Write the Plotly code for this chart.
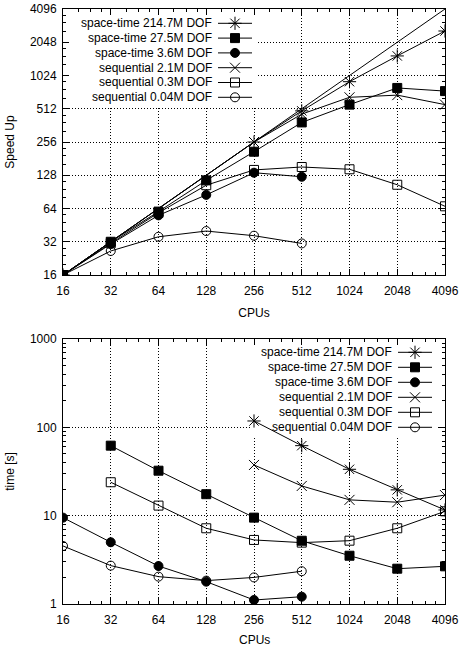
import math
import plotly.graph_objects as go

# ---------------- data ----------------
cpus = [16, 32, 64, 128, 256, 512, 1024, 2048, 4096]
cpu_labels = [str(c) for c in cpus]
speedup_ticks = [16, 32, 64, 128, 256, 512, 1024, 2048, 4096]
time_ticks = [1, 10, 100, 1000]

series_names = [
    "space-time 214.7M DOF",
    "space-time 27.5M DOF",
    "space-time 3.6M DOF",
    "sequential 2.1M DOF",
    "sequential 0.3M DOF",
    "sequential 0.04M DOF",
]

# speed-up (top panel)
su_st214_cpus = [16, 256, 512, 1024, 2048, 4096]
su_st214 = [16, 256, 490, 900, 1540, 2590]
su_st27_cpus = [16, 32, 64, 128, 256, 512, 1024, 2048, 4096]
su_st27 = [16, 32, 60, 115, 209, 385, 558, 790, 740]
su_st36_cpus = [16, 32, 64, 128, 256, 512]
su_st36 = [16, 30.5, 55.5, 85, 135, 124]
su_seq21_cpus = [16, 256, 512, 1024, 2048, 4096]
su_seq21 = [16, 256, 458, 650, 680, 558]
su_seq03_cpus = [16, 32, 64, 128, 256, 512, 1024, 2048, 4096]
su_seq03 = [16, 31, 58.5, 104, 143, 152, 145, 105, 67]
su_seq004_cpus = [16, 32, 64, 128, 256, 512]
su_seq004 = [16, 26.4, 35.5, 40, 36.3, 30.9]

# time in seconds (bottom panel)
t_st214_cpus = [256, 512, 1024, 2048, 4096]
t_st214 = [118, 62, 33.5, 19.6, 11.6]
t_st27_cpus = [32, 64, 128, 256, 512, 1024, 2048, 4096]
t_st27 = [62, 32.3, 17.5, 9.5, 5.2, 3.52, 2.51, 2.67]
t_st36_cpus = [16, 32, 64, 128, 256, 512]
t_st36 = [9.5, 5.0, 2.69, 1.79, 1.11, 1.21]
t_seq21_cpus = [256, 512, 1024, 2048, 4096]
t_seq21 = [37.5, 21.7, 15.1, 14.2, 17.1]
t_seq03_cpus = [32, 64, 128, 256, 512, 1024, 2048, 4096]
t_seq03 = [23.9, 13.0, 7.2, 5.31, 4.95, 5.21, 7.2, 11.2]
t_seq004_cpus = [16, 32, 64, 128, 256, 512]
t_seq004 = [4.54, 2.72, 2.04, 1.84, 2.0, 2.35]

speedup_data = [
    (su_st214_cpus, su_st214), (su_st27_cpus, su_st27), (su_st36_cpus, su_st36),
    (su_seq21_cpus, su_seq21), (su_seq03_cpus, su_seq03), (su_seq004_cpus, su_seq004),
]
time_data = [
    (t_st214_cpus, t_st214), (t_st27_cpus, t_st27), (t_st36_cpus, t_st36),
    (t_seq21_cpus, t_seq21), (t_seq03_cpus, t_seq03), (t_seq004_cpus, t_seq004),
]

# ---------------- styles ----------------
FONT = "Liberation Sans, Arial, Helvetica, sans-serif"
symbols = ["asterisk-open", "square", "circle", "x-thin-open", "square-open", "circle-open"]
msizes = [11, 9, 9, 10, 9, 9]
GRID_DASH = "1px,2px"

W, H = 460, 646
ML, MR, MT, MB = 63, 15, 9, 42
PW, PH = W - ML - MR, H - MT - MB
TOP_PX = (9, 275)
BOT_PX = (339, 604)
lg = math.log10
X_RANGE = [lg(16), lg(4096)]
Y_RANGE_TOP = [lg(16), lg(4096)]
Y_RANGE_BOT = [0, 3]


def ydom(px):
    return [(H - MB - px[1]) / PH, (H - MB - px[0]) / PH]


top_dom = ydom(TOP_PX)
bot_dom = ydom(BOT_PX)


def log2_minor(lo, hi):
    vals = []
    p = lo
    while p < hi:
        vals += [p * 1.25, p * 1.5, p * 1.75]
        p *= 2
    return vals


x_minor = log2_minor(16, 4096)
y_minor_top = log2_minor(16, 4096)
y_minor_bot = [m * 10 ** e for e in range(0, 3) for m in range(2, 10)]

fig = go.Figure()

# ---------------- key backgrounds (hide grid, stay under data) ----------------
key_boxes = [
    dict(xa="x", ya="y", ypx=TOP_PX, yr=Y_RANGE_TOP, box=(63, 257, 9, 106)),
    dict(xa="x2", ya="y2", ypx=BOT_PX, yr=Y_RANGE_BOT, box=(250, 437, 339, 436)),
]
for kb in key_boxes:
    y0p, y1p = kb["ypx"]
    px2x = lambda px: 10 ** (X_RANGE[0] + (px - ML) / PW * (X_RANGE[1] - X_RANGE[0]))
    py2y = lambda py: 10 ** (kb["yr"][0] + (y1p - py) / (y1p - y0p) * (kb["yr"][1] - kb["yr"][0]))
    bx0, bx1, by0, by1 = kb["box"]
    fig.add_trace(go.Scatter(
        x=[px2x(bx0), px2x(bx1), px2x(bx1), px2x(bx0), px2x(bx0)],
        y=[py2y(by1), py2y(by1), py2y(by0), py2y(by0), py2y(by1)],
        mode="lines", fill="toself", fillcolor="white", line=dict(width=0, color="white"),
        showlegend=False, hoverinfo="skip", xaxis=kb["xa"], yaxis=kb["ya"]))

# ideal speed-up line
fig.add_trace(go.Scatter(x=cpus, y=cpus, mode="lines", line=dict(color="black", width=1),
                         showlegend=False, xaxis="x", yaxis="y", hoverinfo="skip"))

for i, (xs, ys) in enumerate(speedup_data):
    fig.add_trace(go.Scatter(
        x=xs, y=ys, mode="lines+markers", name=series_names[i], showlegend=False,
        line=dict(color="black", width=1),
        marker=dict(symbol=symbols[i], size=msizes[i], color="black",
                    line=dict(color="black", width=1)),
        xaxis="x", yaxis="y"))

for i, (xs, ys) in enumerate(time_data):
    fig.add_trace(go.Scatter(
        x=xs, y=ys, mode="lines+markers", name=series_names[i], showlegend=False,
        line=dict(color="black", width=1),
        marker=dict(symbol=symbols[i], size=msizes[i], color="black",
                    line=dict(color="black", width=1)),
        xaxis="x2", yaxis="y2"))

# ---------------- gnuplot-like keys ----------------
keys = [
    dict(ax="3", base="", xpx_text=212.5, xpx_l=218, xpx_r=252,
         rows_px=[23.3 + 14.8 * k for k in range(6)], ypx=TOP_PX),
    dict(ax="4", base="2", xpx_text=393, xpx_l=398, xpx_r=432,
         rows_px=[352.3 + 15.0 * k for k in range(6)], ypx=BOT_PX),
]

annotations = []
for kd in keys:
    y0p, y1p = kd["ypx"]
    fx = lambda px: (px - ML) / PW
    fy = lambda py: (y1p - py) / (y1p - y0p)
    xref = "x" + kd["base"] + " domain"
    yref = "y" + kd["base"] + " domain"
    for i, name in enumerate(series_names):
        yy = fy(kd["rows_px"][i])
        annotations.append(dict(text=name, xref=xref, yref=yref, x=fx(kd["xpx_text"]), y=yy,
                                xanchor="right", yanchor="middle", showarrow=False,
                                borderpad=0, font=dict(family=FONT, size=12, color="black")))
        fig.add_trace(go.Scatter(x=[fx(kd["xpx_l"]), fx(kd["xpx_r"])], y=[yy, yy], mode="lines",
                                 line=dict(color="black", width=1), showlegend=False,
                                 hoverinfo="skip", xaxis="x" + kd["ax"], yaxis="y" + kd["ax"]))
        fig.add_trace(go.Scatter(x=[(fx(kd["xpx_l"]) + fx(kd["xpx_r"])) / 2], y=[yy], mode="markers",
                                 marker=dict(symbol=symbols[i], size=msizes[i], color="black",
                                             line=dict(color="black", width=1)),
                                 showlegend=False, hoverinfo="skip",
                                 xaxis="x" + kd["ax"], yaxis="y" + kd["ax"]))

# bottom x-axis title (placed like gnuplot, close to the page edge)
annotations.append(dict(text="CPUs", xref="paper", yref="paper", x=0.5,
                        y=(H - MB - 640) / PH, xanchor="center", yanchor="middle",
                        showarrow=False, font=dict(family=FONT, size=12, color="black")))

# ---------------- axes ----------------
common = dict(
    type="log", showline=True, linecolor="black", linewidth=1, mirror="allticks",
    ticks="inside", ticklen=6, tickwidth=1, tickcolor="black",
    showgrid=True, gridcolor="black", griddash=GRID_DASH, gridwidth=1,
    zeroline=False, automargin=False, tickfont=dict(family=FONT, size=12, color="black"),
)
minor_common = dict(ticks="inside", ticklen=3, tickwidth=1, tickcolor="black", showgrid=False)

fig.update_layout(
    width=W, height=H,
    margin=dict(l=ML, r=MR, t=MT, b=MB, pad=0, autoexpand=False),
    paper_bgcolor="white", plot_bgcolor="white",
    font=dict(family=FONT, size=12, color="black"),
    showlegend=False,
    xaxis=dict(common, anchor="y", domain=[0, 1], range=X_RANGE,
               tickmode="array", tickvals=cpus, ticktext=cpu_labels, ticklabelstandoff=5,
               minor=dict(minor_common, tickmode="array", tickvals=x_minor),
               title=dict(text="CPUs", standoff=11, font=dict(family=FONT, size=12))),
    yaxis=dict(common, anchor="x", domain=top_dom, range=Y_RANGE_TOP,
               tickmode="array", tickvals=speedup_ticks, ticktext=[str(v) for v in speedup_ticks],
               ticklabelstandoff=3,
               minor=dict(minor_common, tickmode="array", tickvals=y_minor_top),
               title=dict(text="Speed Up", standoff=12, font=dict(family=FONT, size=12))),
    xaxis2=dict(common, anchor="y2", domain=[0, 1], range=X_RANGE,
                tickmode="array", tickvals=cpus, ticktext=cpu_labels, ticklabelstandoff=5,
                minor=dict(minor_common, tickmode="array", tickvals=x_minor)),
    yaxis2=dict(common, anchor="x2", domain=bot_dom, range=Y_RANGE_BOT,
                tickmode="array", tickvals=time_ticks, ticktext=[str(v) for v in time_ticks],
                ticklabelstandoff=3,
                minor=dict(minor_common, tickmode="array", tickvals=y_minor_bot),
                title=dict(text="time [s]", standoff=12, font=dict(family=FONT, size=12))),
    xaxis3=dict(overlaying="x", anchor="y3", range=[0, 1], visible=False, fixedrange=True),
    yaxis3=dict(overlaying="y", anchor="x3", range=[0, 1], visible=False, fixedrange=True),
    xaxis4=dict(overlaying="x2", anchor="y4", range=[0, 1], visible=False, fixedrange=True),
    yaxis4=dict(overlaying="y2", anchor="x4", range=[0, 1], visible=False, fixedrange=True),
    annotations=annotations,
)

fig.write_html("out.html")
